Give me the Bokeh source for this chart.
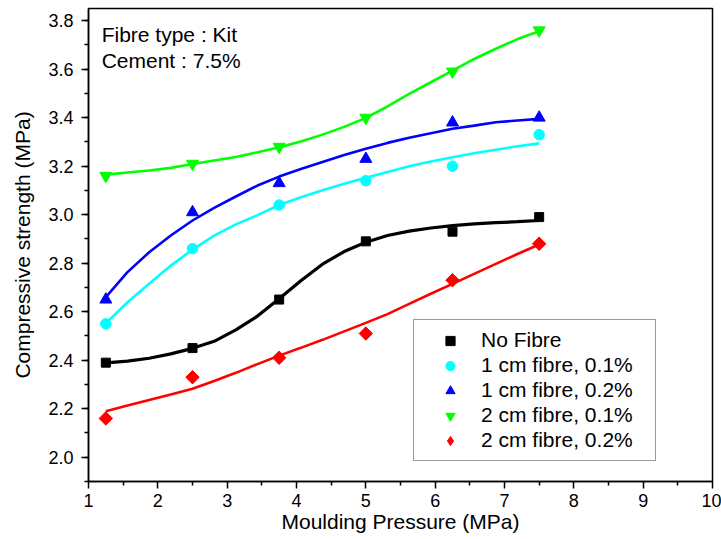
import math
from bokeh.plotting import figure
from bokeh.models import (Range1d, FixedTicker, Legend, LegendItem, Label)
from bokeh.embed import file_html
from bokeh.resources import INLINE

# Measured points
pressure = [1.25, 2.5, 3.75, 5.0, 6.25, 7.5]
no_fibre = [2.39, 2.45, 2.65, 2.89, 2.93, 2.99]
cm1_01 = [2.55, 2.86, 3.04, 3.14, 3.20, 3.33]
cm1_02 = [2.65, 3.01, 3.13, 3.23, 3.38, 3.40]
cm2_01 = [3.16, 3.21, 3.28, 3.40, 3.59, 3.76]
cm2_02 = [2.16, 2.33, 2.41, 2.51, 2.73, 2.88]

# Fitted curves
fit_x = [1.25, 1.5625, 1.875, 2.1875, 2.5, 2.8125, 3.125, 3.4375, 3.75, 4.0625, 4.375,
         4.6875, 5.0, 5.3125, 5.625, 5.9375, 6.25, 6.5625, 6.875, 7.1875, 7.5]
fit_no_fibre = [2.389, 2.396, 2.408, 2.426, 2.449, 2.478, 2.525, 2.582, 2.653, 2.728, 2.796,
                2.848, 2.886, 2.914, 2.932, 2.945, 2.955, 2.962, 2.967, 2.971, 2.976]
fit_cm1_01 = [2.552, 2.639, 2.715, 2.790, 2.856, 2.914, 2.960, 2.998, 3.040, 3.072, 3.101,
              3.128, 3.152, 3.176, 3.200, 3.219, 3.237, 3.253, 3.268, 3.282, 3.294]
fit_cm1_02 = [2.660, 2.763, 2.845, 2.914, 2.976, 3.028, 3.075, 3.120, 3.157, 3.188, 3.217,
              3.246, 3.272, 3.296, 3.317, 3.336, 3.354, 3.367, 3.381, 3.388, 3.395]
fit_cm2_01 = [3.165, 3.174, 3.182, 3.193, 3.209, 3.223, 3.238, 3.257, 3.278, 3.302, 3.330,
              3.362, 3.399, 3.446, 3.498, 3.546, 3.594, 3.642, 3.684, 3.724, 3.756]
fit_cm2_02 = [2.190, 2.213, 2.236, 2.259, 2.282, 2.314, 2.348, 2.384, 2.419, 2.451, 2.484,
              2.519, 2.554, 2.590, 2.632, 2.674, 2.715, 2.756, 2.797, 2.838, 2.877]

labels = ["No Fibre", "1 cm fibre, 0.1%", "1 cm fibre, 0.2%", "2 cm fibre, 0.1%", "2 cm fibre, 0.2%"]
colors = ["#000000", "#00FFFF", "#0000FF", "#00FF00", "#FF0000"]
markers = ["square", "circle", "triangle", "inverted_triangle", "square"]
legend_markers = ["square", "circle", "triangle", "inverted_triangle", "diamond"]
angles = [0, 0, 0, 0, math.pi / 4]
sizes = [9, 10.5, 12, 12, 9.5]
widths = [3.2, 2.6, 2.6, 2.6, 2.6]

x_ticks = [1, 2, 3, 4, 5, 6, 7, 8, 9, 10]
y_ticks = [2.0, 2.2, 2.4, 2.6, 2.8, 3.0, 3.2, 3.4, 3.6, 3.8]

FONT = "Liberation Sans"

p = figure(width=721, height=539, output_backend="svg", toolbar_location=None,
           x_range=Range1d(1, 10), y_range=Range1d(1.9, 3.85),
           min_border_left=88, min_border_right=9, min_border_top=8, min_border_bottom=58)
p.xgrid.visible = False
p.ygrid.visible = False
p.outline_line_color = "black"
p.outline_line_width = 1.5
p.background_fill_color = "white"
p.border_fill_color = "white"

p.xaxis.ticker = FixedTicker(ticks=x_ticks, minor_ticks=[v + 0.5 for v in x_ticks[:-1]])
p.yaxis.ticker = FixedTicker(ticks=y_ticks, minor_ticks=[round(1.9 + 0.1 * i, 2) for i in range(20)])
p.xaxis.major_label_overrides = {v: str(v) for v in x_ticks}
p.yaxis.major_label_overrides = {v: f"{v:.1f}" for v in y_ticks}
p.xaxis.axis_label = "Moulding Pressure (MPa)"
p.yaxis.axis_label = "Compressive strength (MPa)"
for ax in (p.xaxis[0], p.yaxis[0]):
    ax.axis_line_color = "black"
    ax.axis_line_width = 1.5
    ax.major_tick_line_color = "black"
    ax.minor_tick_line_color = "black"
    ax.major_tick_line_width = 1.5
    ax.minor_tick_line_width = 1.5
    ax.major_tick_out = 7
    ax.major_tick_in = 0
    ax.minor_tick_out = 4
    ax.minor_tick_in = 0
    ax.major_label_text_font = FONT
    ax.major_label_text_font_size = "18px"
    ax.major_label_text_color = "black"
    ax.axis_label_text_font = FONT
    ax.axis_label_text_font_size = "21px"
    ax.axis_label_text_font_style = "normal"
    ax.axis_label_text_color = "black"
p.xaxis.major_label_standoff = 5
p.xaxis.axis_label_standoff = 0
p.yaxis.major_label_standoff = 8
p.yaxis.axis_label_standoff = 11

series = [no_fibre, cm1_01, cm1_02, cm2_01, cm2_02]
fits = [fit_no_fibre, fit_cm1_01, fit_cm1_02, fit_cm2_01, fit_cm2_02]
items = []
for lab, col, mk, lmk, ang, sz, lw, ys, fy in zip(labels, colors, markers, legend_markers, angles,
                                                   sizes, widths, series, fits):
    p.line(fit_x, fy, line_color=col, line_width=lw)
    key = None
    if lmk != mk:
        # legend keys are drawn unrotated: a true diamond (hidden beneath the rotated squares) serves as the key
        key = p.scatter(pressure, ys, marker=lmk, size=12.5, fill_color=col, line_color=col)
    r = p.scatter(pressure, ys, marker=mk, size=sz, angle=ang, fill_color=col, line_color=col)
    items.append(LegendItem(label=lab, renderers=[key if key is not None else r]))

legend = Legend(items=items, location=(325, 20), orientation="vertical",
                label_text_font=FONT, label_text_font_size="21px", label_text_color="black",
                border_line_color="#333333", border_line_width=1.2,
                background_fill_color="white", background_fill_alpha=1.0,
                padding=8, spacing=1, glyph_width=56, glyph_height=23,
                label_height=23, label_standoff=3, label_width=166, margin=0)
p.add_layout(legend)

p.add_layout(Label(x=1.19, y=3.697, text="Fibre type : Kit", text_font=FONT,
                   text_font_size="21px", text_color="black"))
p.add_layout(Label(x=1.19, y=3.590, text="Cement : 7.5%", text_font=FONT,
                   text_font_size="21px", text_color="black"))

open("out.html", "w").write(file_html(p, INLINE))
